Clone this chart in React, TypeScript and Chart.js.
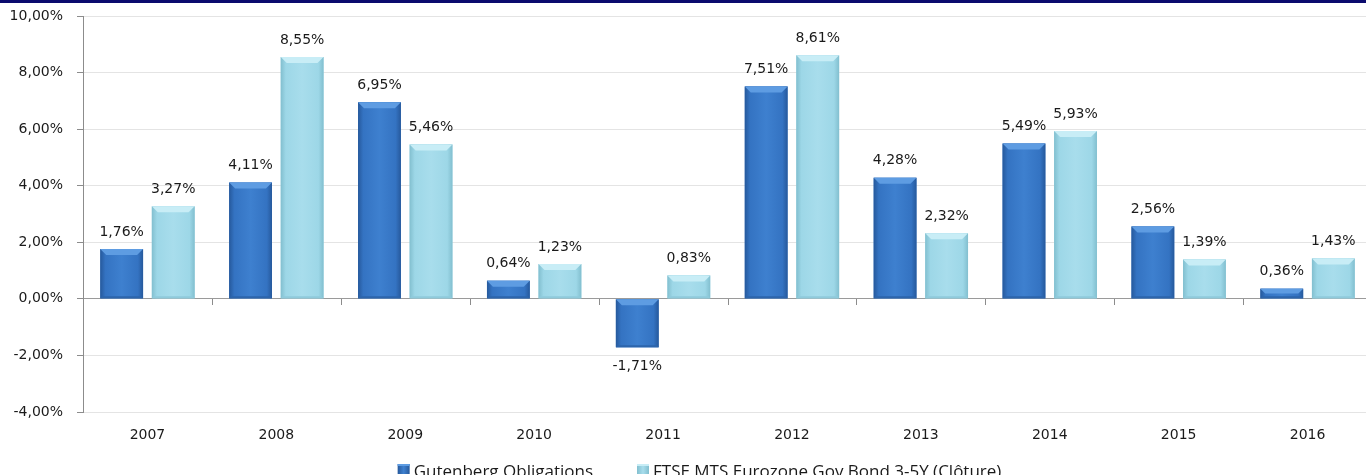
import React, { useEffect, useRef } from "react";
import { Chart, registerables } from "chart.js";

Chart.register(...registerables);

const years = ["2007", "2008", "2009", "2010", "2011", "2012", "2013", "2014", "2015", "2016"];
const gutenberg = [1.76, 4.11, 6.95, 0.64, -1.71, 7.51, 4.28, 5.49, 2.56, 0.36];
const ftse = [3.27, 8.55, 5.46, 1.23, 0.83, 8.61, 2.32, 5.93, 1.39, 1.43];
const seriesNames = ["Gutenberg Obligations", "FTSE MTS Eurozone Gov Bond 3-5Y (Clôture)"];
const yMin = -4;
const yMax = 10;
const yStep = 2;

const palettes = [
  { mid: "#3473c2", light: "#3e80cf", dark: "#26599c", top: "#5e9ce2", bottom: "#2d65ab" },
  { mid: "#9dd7e7", light: "#a8ddec", dark: "#82bfcf", top: "#c8edf6", bottom: "#8fcadb" },
];

const fmt = (v: number) => v.toFixed(2).replace(".", ",") + "%";

const TXT = "DejaVu Sans";

const barPlugin = {
  id: "bevelBars",
  afterDatasetsDraw(chart: any) {
    const ctx = chart.ctx;
    const yScale = chart.scales.y;
    const xScale = chart.scales.x;
    const y0 = yScale.getPixelForValue(0);
    ctx.save();
    ctx.strokeStyle = "#8c8c8c";
    ctx.lineWidth = 1;
    for (let i = 1; i < years.length; i++) {
      const bx = Math.round((xScale.getPixelForValue(i - 1) + xScale.getPixelForValue(i)) / 2) + 0.5;
      ctx.beginPath();
      ctx.moveTo(bx, Math.round(y0));
      ctx.lineTo(bx, Math.round(y0) + 6);
      ctx.stroke();
    }
    ctx.restore();

    chart.data.datasets.forEach((ds: any, di: number) => {
      const meta = chart.getDatasetMeta(di);
      const p = palettes[di];
      meta.data.forEach((el: any, i: number) => {
        const { x, y, base, width } = el.getProps(["x", "y", "base", "width"], true);
        const l = x - width / 2;
        const r = x + width / 2;
        const t = Math.min(y, base);
        const b = Math.max(y, base);
        const h = b - t;
        ctx.save();
        const g = ctx.createLinearGradient(l, 0, r, 0);
        g.addColorStop(0, p.dark);
        g.addColorStop(0.12, p.mid);
        g.addColorStop(0.5, p.light);
        g.addColorStop(0.88, p.mid);
        g.addColorStop(1, p.dark);
        ctx.fillStyle = g;
        ctx.fillRect(l, t, width, h);
        const bv = Math.min(6, h / 2);
        ctx.fillStyle = p.top;
        ctx.beginPath();
        ctx.moveTo(l, t);
        ctx.lineTo(r, t);
        ctx.lineTo(r - bv, t + bv);
        ctx.lineTo(l + bv, t + bv);
        ctx.closePath();
        ctx.fill();
        const bb = Math.min(2, h / 3);
        ctx.fillStyle = p.bottom;
        ctx.beginPath();
        ctx.moveTo(l, b);
        ctx.lineTo(r, b);
        ctx.lineTo(r - bb, b - bb);
        ctx.lineTo(l + bb, b - bb);
        ctx.closePath();
        ctx.fill();
        const v = ds.data[i];
        ctx.fillStyle = "#1a1a1a";
        ctx.font = `14px "${TXT}"`;
        ctx.textAlign = "center";
        ctx.textBaseline = "middle";
        if (v >= 0) ctx.fillText(fmt(v), x, t - 17);
        else ctx.fillText(fmt(v), x, b + 19);
        ctx.restore();
      });
    });
  },
  afterDraw(chart: any) {
    const ctx = chart.ctx;
    ctx.save();
    ctx.font = `17px "Open Sans"`;
    ctx.textBaseline = "alphabetic";
    ctx.textAlign = "left";
    const box = 12;
    const boxGap = 4;
    const itemGap = 44;
    const widths = seriesNames.map((n) => box + boxGap + ctx.measureText(n).width);
    const total = widths.reduce((a, b) => a + b, 0) + itemGap * (widths.length - 1);
    let cx = 699.5 - total / 2;
    const base = 477;
    seriesNames.forEach((n, i) => {
      const p = palettes[i];
      const g = ctx.createLinearGradient(cx, 0, cx + box, 0);
      g.addColorStop(0, p.dark);
      g.addColorStop(0.5, p.light);
      g.addColorStop(1, p.dark);
      ctx.fillStyle = g;
      ctx.fillRect(cx, 464, box, 10);
      ctx.fillStyle = p.top;
      ctx.fillRect(cx, 464, box, 2);
      ctx.fillStyle = "#1a1a1a";
      ctx.fillText(n, cx + box + boxGap, base);
      cx += widths[i] + itemGap;
    });
    ctx.restore();
  },
};

export default function App() {
  const ref = useRef<HTMLCanvasElement | null>(null);
  useEffect(() => {
    if (!ref.current) return;
    const chart = new Chart(ref.current, {
      type: "bar",
      data: {
        labels: years,
        datasets: [
          { label: seriesNames[0], data: gutenberg, backgroundColor: palettes[0].mid, categoryPercentage: 0.8, barPercentage: 0.83 },
          { label: seriesNames[1], data: ftse, backgroundColor: palettes[1].mid, categoryPercentage: 0.8, barPercentage: 0.83 },
        ],
      },
      options: {
        responsive: false,
        animation: false,
        layout: { padding: { top: 16, right: 0, bottom: 0, left: 0 } },
        plugins: {
          legend: { display: false },
          tooltip: { enabled: false },
        },
        scales: {
          x: {
            grid: { display: false, drawTicks: false },
            border: { display: false },
            ticks: { color: "#1a1a1a", font: { family: TXT, size: 14 }, padding: 15, maxRotation: 0 },
            afterFit: (s: any) => {
              s.height = 71;
              s.paddingLeft = 0;
              s.paddingRight = 0;
            },
          },
          y: {
            min: yMin,
            max: yMax,
            border: { display: true, color: "#8c8c8c", width: 1 },
            grid: {
              color: (c: any) => (c.tick && c.tick.value === 0 ? "#9a9a9a" : "#e4e4e4"),
              tickColor: "#8c8c8c",
              tickLength: 6,
              lineWidth: 1,
            },
            ticks: {
              stepSize: yStep,
              color: "#1a1a1a",
              font: { family: TXT, size: 14 },
              padding: 14,
              callback: (v: any) => fmt(Number(v)),
            },
            afterFit: (s: any) => {
              s.width = 83;
              s.paddingTop = 0;
              s.paddingBottom = 0;
            },
          },
        },
      },
      plugins: [barPlugin],
    });
    return () => chart.destroy();
  }, []);
  return (
    <div style={{ position: "fixed", left: 0, top: 0, width: 1366, height: 475, overflow: "hidden", background: "#fff" }}>
      <canvas ref={ref} width={1372} height={483} style={{ display: "block" }} />
      <div style={{ position: "absolute", left: 0, top: 0, width: 1366, height: 3, background: "#0b0b6e" }} />
    </div>
  );
}
